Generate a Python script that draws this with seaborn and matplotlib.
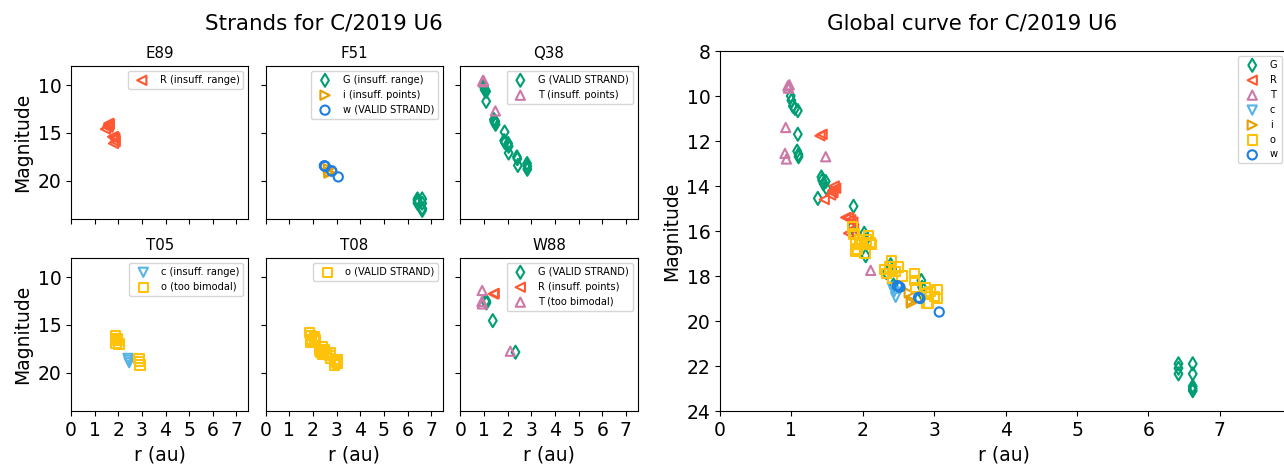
import numpy as np
import pandas as pd
import matplotlib
matplotlib.use("Agg")
import matplotlib.pyplot as plt
import seaborn as sns

# ─────────────────────────────────────────
# DATA
# ─────────────────────────────────────────
OBJECT = "C/2019 U6"
observatories = ["E89", "F51", "Q38", "T05", "T08", "W88"]

# E89
E89_R_r   = [1.46, 1.55, 1.58, 1.60, 1.62, 1.58, 1.76, 1.80, 1.83, 1.86, 1.87, 1.80]
E89_R_mag = [14.6, 14.4, 14.2, 14.0, 14.1, 14.3, 15.4, 15.4, 15.5, 15.6, 15.9, 16.1]

# F51
F51_G_r   = [6.42, 6.42, 6.42, 6.62, 6.62, 6.62, 6.62, 6.62]
F51_G_mag = [21.9, 22.1, 22.35, 21.9, 22.35, 22.9, 23.0, 23.1]
F51_i_r   = [2.65, 2.68, 2.68]
F51_i_mag = [18.75, 19.1, 19.2]
F51_w_r   = [2.48, 2.50, 2.52, 2.78, 2.80, 3.07]
F51_w_mag = [18.43, 18.46, 18.5, 18.95, 19.0, 19.6]

# Q38
Q38_G_r   = [0.99, 1.00, 1.02, 1.05, 1.09, 1.09, 1.42, 1.43, 1.45, 1.48, 1.49, 1.87,
             1.85, 1.88, 2.02, 2.04, 2.04, 2.39, 2.41, 2.43, 2.82, 2.83, 2.83]
Q38_G_mag = [10.0, 10.2, 10.45, 10.55, 10.65, 11.7, 13.6, 13.75, 13.9, 13.8, 14.1, 14.9,
             15.8, 16.0, 16.1, 16.4, 17.1, 17.5, 17.7, 18.4, 18.2, 18.5, 18.8]
Q38_T_r   = [0.95, 0.96, 0.97, 1.48]
Q38_T_mag = [9.55, 9.65, 9.5, 12.7]

# T05
T05_c_r   = [2.41, 2.44, 2.46]
T05_c_mag = [18.5, 18.7, 18.95]
T05_o_r   = [1.87, 1.95, 1.98, 2.03, 1.90, 2.88, 2.90, 2.92]
T05_o_mag = [16.15, 16.4, 16.6, 17.0, 16.9, 18.5, 18.8, 19.2]

# T08
T08_o_r   = [1.86, 1.88, 1.90, 1.92, 1.95, 2.05, 2.08, 2.10, 2.12, 2.30, 2.33, 2.38, 2.40,
             2.42, 2.45, 2.50, 2.55, 2.72, 2.72, 2.74, 2.90, 2.95, 3.00, 3.04, 3.04]
T08_o_mag = [15.8, 16.1, 16.5, 16.8, 16.6, 16.4, 16.2, 16.5, 16.6, 17.7, 17.9, 17.6, 17.3,
             18.1, 17.8, 17.6, 18.0, 17.9, 18.2, 18.5, 19.2, 18.7, 18.9, 18.6, 19.0]

# W88
W88_G_r   = [1.08, 1.10, 1.10, 1.37, 2.33]
W88_G_mag = [12.45, 12.6, 12.7, 14.55, 17.85]
W88_R_r   = [1.40, 1.43]
W88_R_mag = [11.77, 11.7]
W88_T_r   = [0.92, 0.91, 0.93, 2.11]
W88_T_mag = [11.4, 12.55, 12.8, 17.75]

# (obs, filter, status, r, mag)
strands = [
    ("E89", "R", "insuff. range",  E89_R_r, E89_R_mag),
    ("F51", "G", "insuff. range",  F51_G_r, F51_G_mag),
    ("F51", "i", "insuff. points", F51_i_r, F51_i_mag),
    ("F51", "w", "VALID STRAND",   F51_w_r, F51_w_mag),
    ("Q38", "G", "VALID STRAND",   Q38_G_r, Q38_G_mag),
    ("Q38", "T", "insuff. points", Q38_T_r, Q38_T_mag),
    ("T05", "c", "insuff. range",  T05_c_r, T05_c_mag),
    ("T05", "o", "too bimodal",    T05_o_r, T05_o_mag),
    ("T08", "o", "VALID STRAND",   T08_o_r, T08_o_mag),
    ("W88", "G", "VALID STRAND",   W88_G_r, W88_G_mag),
    ("W88", "R", "insuff. points", W88_R_r, W88_R_mag),
    ("W88", "T", "too bimodal",    W88_T_r, W88_T_mag),
]

rows = []
for obs, filt, status, rr, mm in strands:
    for r, m in zip(rr, mm):
        rows.append({"obs": obs, "filt": filt, "status": status, "r": r, "mag": m})
df = pd.DataFrame(rows)

filters = ["G", "R", "T", "c", "i", "o", "w"]
filt_colors = {"G": "#009E73", "R": "#FF5733", "T": "#CC79A7", "c": "#56B4E9",
               "i": "#E69F00", "o": "#FFC20A", "w": "#1E7FE0"}
filt_markers = {"G": "d", "R": "<", "T": "^", "c": "v", "i": ">", "o": "s", "w": "o"}

TICK_FS = 13.5
LABEL_FS = 13.5
TITLE_FS = 15.4
SUB_FS = 10.8
LEG_FS = 7.1

# ─────────────────────────────────────────
# FIGURE
# ─────────────────────────────────────────
W, H = 1284, 465
fig = plt.figure(figsize=(W / 100, H / 100), dpi=100)


def px_axes(x0, y0, x1, y1):
    return fig.add_axes([x0 / W, 1 - y1 / H, (x1 - x0) / W, (y1 - y0) / H])


def draw(ax, sub, label_fn):
    for f in filters:
        part = sub[sub["filt"] == f]
        if part.empty:
            continue
        sns.scatterplot(data=part, x="r", y="mag", ax=ax, marker=filt_markers[f],
                        s=44, facecolor="none", edgecolor=filt_colors[f],
                        linewidth=1.5, label=label_fn(f, part))


lefts = [71, 265.7, 460.4]
tops = [66, 258]
sub_w, sub_h = 177.3, 153
axes = []
for k, obs in enumerate(observatories):
    row, col = divmod(k, 3)
    ax = px_axes(lefts[col], tops[row], lefts[col] + sub_w, tops[row] + sub_h)
    sub = df[df["obs"] == obs]
    draw(ax, sub, lambda f, p: f"{f} ({p['status'].iloc[0]})")
    ax.set_xlim(0, 7.5)
    ax.set_ylim(24, 8)
    ax.set_xticks(range(8))
    ax.set_yticks([10, 15, 20])
    ax.set_title(obs, fontsize=SUB_FS)
    ax.tick_params(labelsize=TICK_FS)
    ax.legend(loc="upper right", fontsize=LEG_FS)
    if row == 0:
        ax.tick_params(labelbottom=False)
        ax.set_xlabel("")
    else:
        ax.set_xlabel("r (au)", fontsize=LABEL_FS)
    if col == 0:
        ax.set_ylabel("Magnitude", fontsize=LABEL_FS)
    else:
        ax.tick_params(labelleft=False)
        ax.set_ylabel("")
    axes.append(ax)

fig.text(324 / W, 1 - 29.5 / H, f"Strands for {OBJECT}",
         ha="center", va="baseline", fontsize=TITLE_FS)

# Global panel
axg = px_axes(720, 51, 1287, 411)
draw(axg, df, lambda f, p: f)
axg.set_xlim(0, 7.94)
axg.set_ylim(24, 8)
axg.set_yticks(range(8, 25, 2))
axg.set_xticks(range(8))
axg.tick_params(labelsize=TICK_FS)
axg.set_xlabel("r (au)", fontsize=LABEL_FS)
axg.set_ylabel("Magnitude", fontsize=LABEL_FS)
axg.legend(loc="upper right", fontsize=LEG_FS)
fig.text(972.5 / W, 1 - 29.5 / H, f"Global curve for {OBJECT}",
         ha="center", va="baseline", fontsize=TITLE_FS)

fig.savefig("out.png", dpi=100)
